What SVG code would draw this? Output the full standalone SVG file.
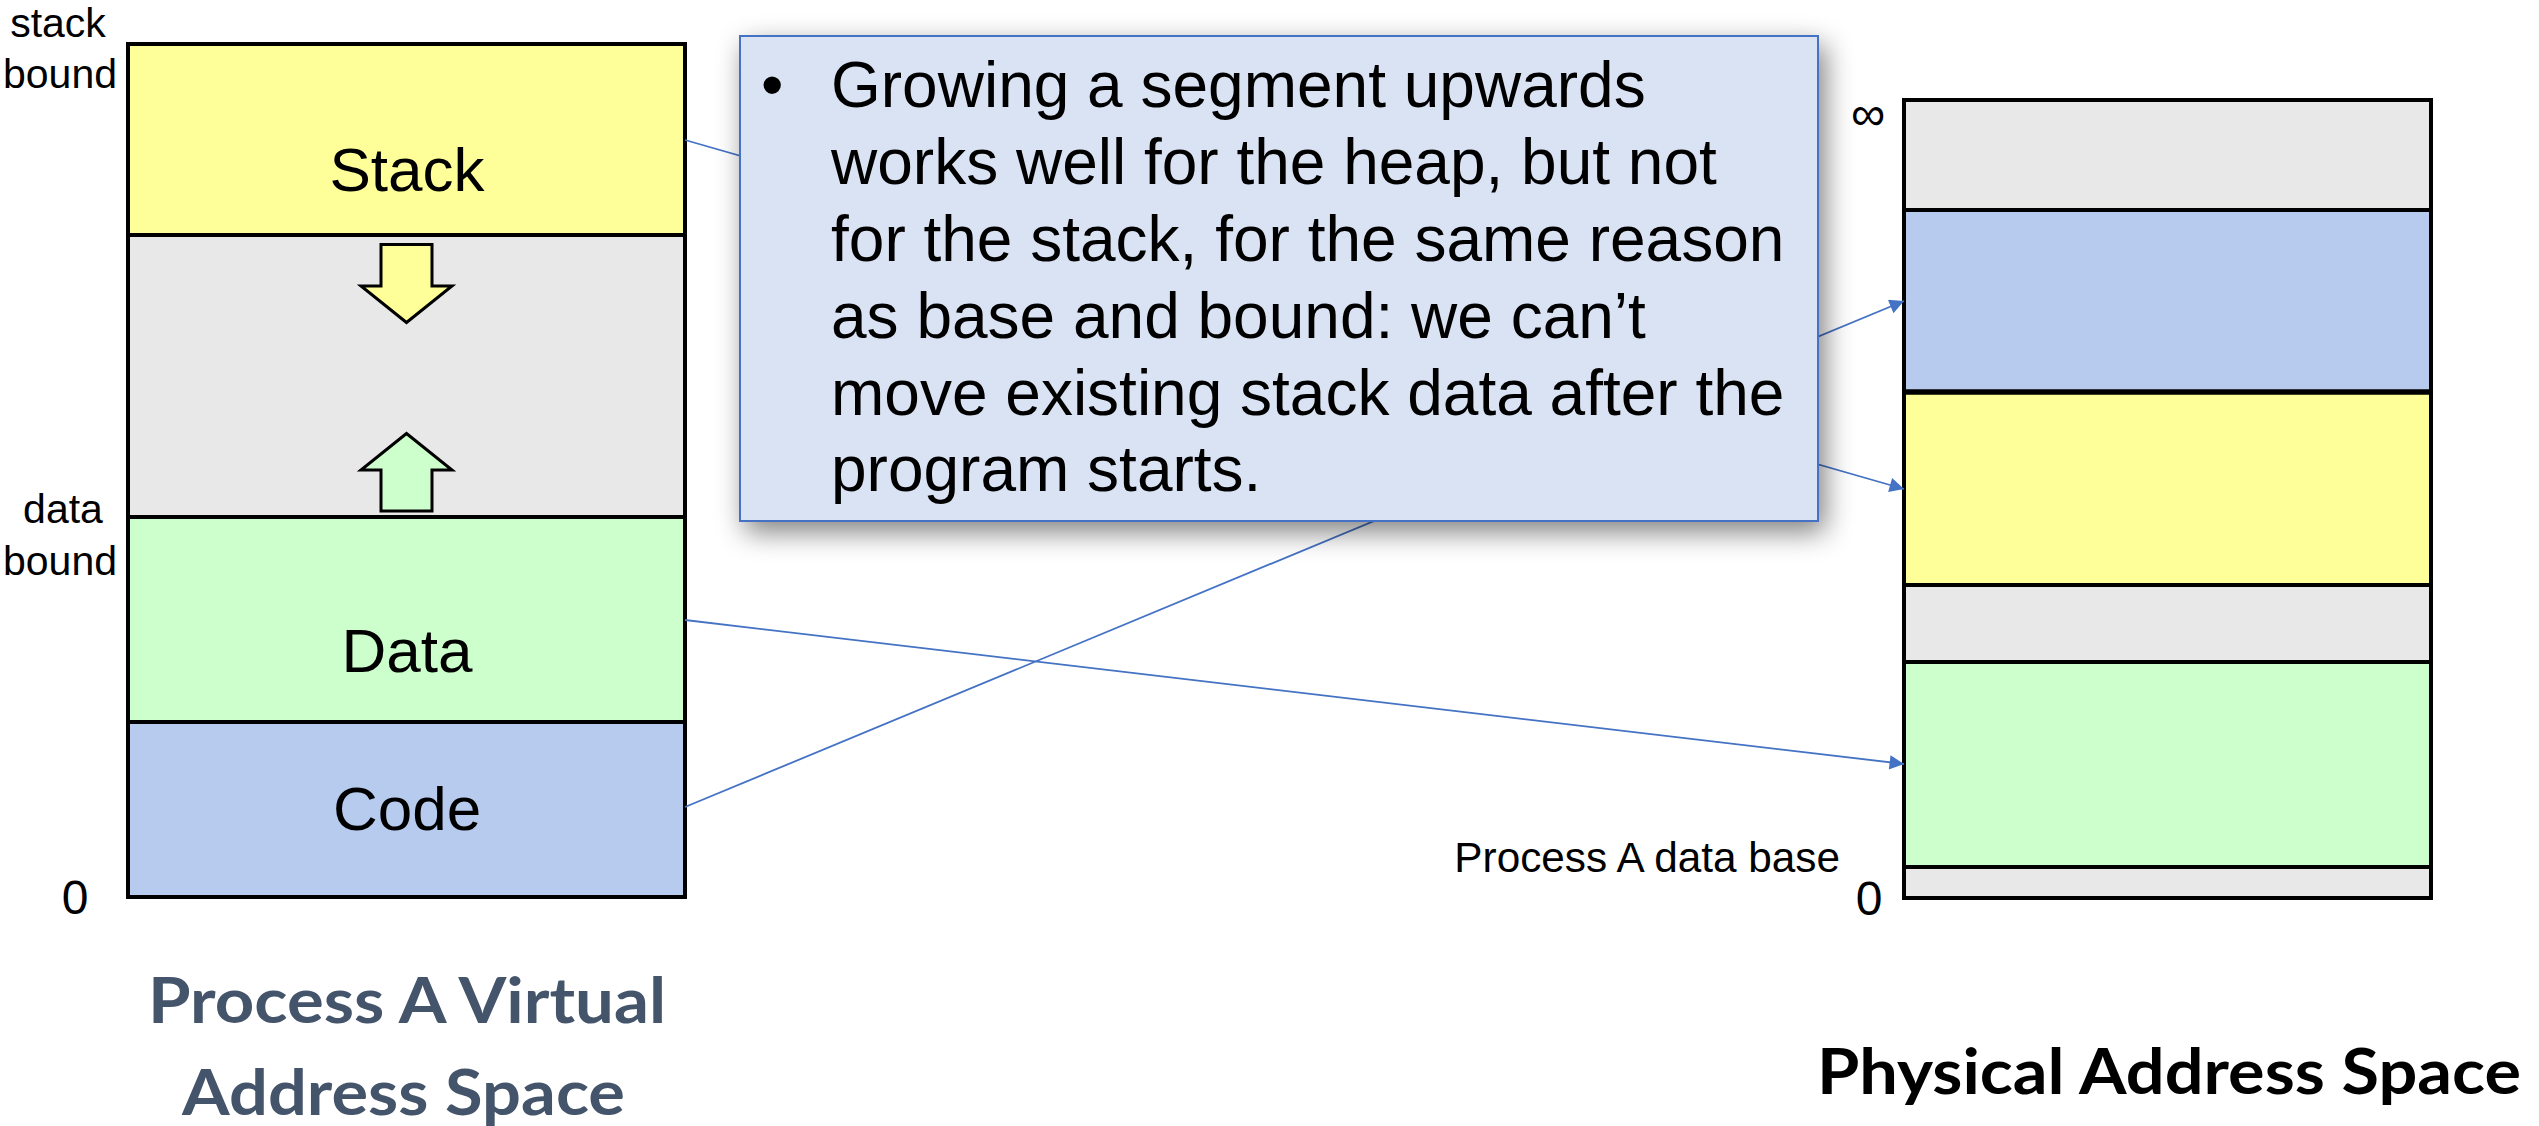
<svg xmlns="http://www.w3.org/2000/svg" width="2539" height="1126" viewBox="0 0 2539 1126">
  <defs>
    <style>
      .seg { stroke: #000; stroke-width: 4; }
      .lbl { font-family: "Liberation Sans", Arial, sans-serif; fill: #000; }
      .big { font-size: 62px; text-anchor: middle; }
      .side { font-size: 41px; text-anchor: middle; }
      .zero { font-size: 48px; text-anchor: middle; }
      .title { font-family: Lato, "Open Sans", sans-serif; font-weight: 700; font-size: 63px; text-anchor: middle; }
      .conn { fill: none; stroke: #4472C4; stroke-width: 1.8; }
      .grow { stroke: #000; stroke-width: 3; stroke-linejoin: miter; }
      .note { font-family: "Liberation Sans", Arial, sans-serif; font-size: 64px; fill: #000; }
    </style>
    <marker id="head" viewBox="0 0 10 10" refX="10" refY="5" markerWidth="10" markerHeight="8" markerUnits="strokeWidth" orient="auto">
      <path d="M0,0 L10,5 L0,10 z" fill="#4472C4"/>
    </marker>
    <filter id="shadow" x="-10%" y="-15%" width="125%" height="135%">
      <feGaussianBlur in="SourceAlpha" stdDeviation="14"/>
      <feOffset dx="6" dy="10" result="blur"/>
      <feComponentTransfer>
        <feFuncA type="linear" slope="0.5"/>
      </feComponentTransfer>
      <feMerge>
        <feMergeNode/>
        <feMergeNode in="SourceGraphic"/>
      </feMerge>
    </filter>
  </defs>

  <rect width="2539" height="1126" fill="#fff"/>

  <!-- Virtual address space of process A -->
  <g id="virtual-space">
    <g id="v-stack">
      <rect class="seg" x="128" y="44" width="557" height="191" fill="#FFFF99"/>
      <text class="lbl big" x="407" y="191">Stack</text>
    </g>
    <g id="v-free">
      <rect class="seg" x="128" y="235" width="557" height="282" fill="#E8E8E8"/>
      <path class="grow" fill="#FFFF99" d="M381,244.5 H432 V286 H452 L406.5,322.5 L361,286 H381 Z"/>
      <path class="grow" fill="#CCFFCC" d="M381,511 H432 V470 H452 L406.5,433.5 L361,470 H381 Z"/>
    </g>
    <g id="v-data">
      <rect class="seg" x="128" y="517" width="557" height="205" fill="#CCFFCC"/>
      <text class="lbl big" x="407" y="672">Data</text>
    </g>
    <g id="v-code">
      <rect class="seg" x="128" y="722" width="557" height="175" fill="#B7CBEF"/>
      <text class="lbl big" x="407" y="830">Code</text>
    </g>
    <g id="v-labels">
      <text class="lbl side" x="58" y="37">stack</text>
      <text class="lbl side" x="60" y="88">bound</text>
      <text class="lbl side" x="63" y="523">data</text>
      <text class="lbl side" x="60" y="575">bound</text>
      <text class="lbl zero" x="75" y="914">0</text>
    </g>
    <g id="v-title">
      <text class="title" x="407" y="1023" fill="#44546A" textLength="518" lengthAdjust="spacingAndGlyphs">Process A Virtual</text>
      <text class="title" x="403.5" y="1115" fill="#44546A" textLength="443" lengthAdjust="spacingAndGlyphs">Address Space</text>
    </g>
  </g>

  <!-- Physical memory -->
  <g id="physical-space">
    <rect x="1904" y="100" width="527" height="110" fill="#E8E8E8"/>
    <rect id="p-code" x="1904" y="210" width="527" height="182" fill="#B7CBEF"/>
    <rect id="p-stack" x="1904" y="392" width="527" height="193" fill="#FFFF99"/>
    <rect x="1904" y="585" width="527" height="77" fill="#E8E8E8"/>
    <rect id="p-data" x="1904" y="662" width="527" height="205" fill="#CCFFCC"/>
    <rect x="1904" y="867" width="527" height="31" fill="#E8E8E8"/>
    <g stroke="#000" stroke-width="4">
      <line x1="1904" y1="210" x2="2431" y2="210"/>
      <line x1="1904" y1="392" x2="2431" y2="392" stroke-width="5.5"/>
      <line x1="1904" y1="585" x2="2431" y2="585"/>
      <line x1="1904" y1="662" x2="2431" y2="662"/>
      <line x1="1904" y1="867" x2="2431" y2="867"/>
    </g>
    <rect x="1904" y="100" width="527" height="798" fill="none" stroke="#000" stroke-width="4"/>
    <text class="lbl" x="1868" y="130" font-size="48" text-anchor="middle">∞</text>
    <text class="lbl zero" x="1869" y="915">0</text>
    <text class="lbl" x="1840" y="872" font-size="42.3" text-anchor="end">Process A data base</text>
    <text class="title" x="2169" y="1094" fill="#000" textLength="704" lengthAdjust="spacingAndGlyphs">Physical Address Space</text>
  </g>

  <!-- Segment mappings -->
  <g id="connectors">
    <line class="conn" x1="685" y1="140" x2="1904" y2="489" marker-end="url(#head)"/>
    <line class="conn" x1="685" y1="620" x2="1904" y2="764" marker-end="url(#head)"/>
    <line class="conn" x1="685" y1="807" x2="1904" y2="301" marker-end="url(#head)"/>
  </g>

  <!-- Explanatory note -->
  <g id="note" filter="url(#shadow)">
    <rect x="740" y="36" width="1078" height="485" fill="#DAE3F3" stroke="#4472C4" stroke-width="2"/>
    <text class="note" x="761" y="107">•</text>
    <text class="note">
      <tspan x="831" y="107">Growing a segment upwards</tspan>
      <tspan x="831" y="184">works well for the heap, but not</tspan>
      <tspan x="831" y="261">for the stack, for the same reason</tspan>
      <tspan x="831" y="338">as base and bound: we can’t</tspan>
      <tspan x="831" y="415">move existing stack data after the</tspan>
      <tspan x="831" y="491">program starts.</tspan>
    </text>
  </g>
</svg>
